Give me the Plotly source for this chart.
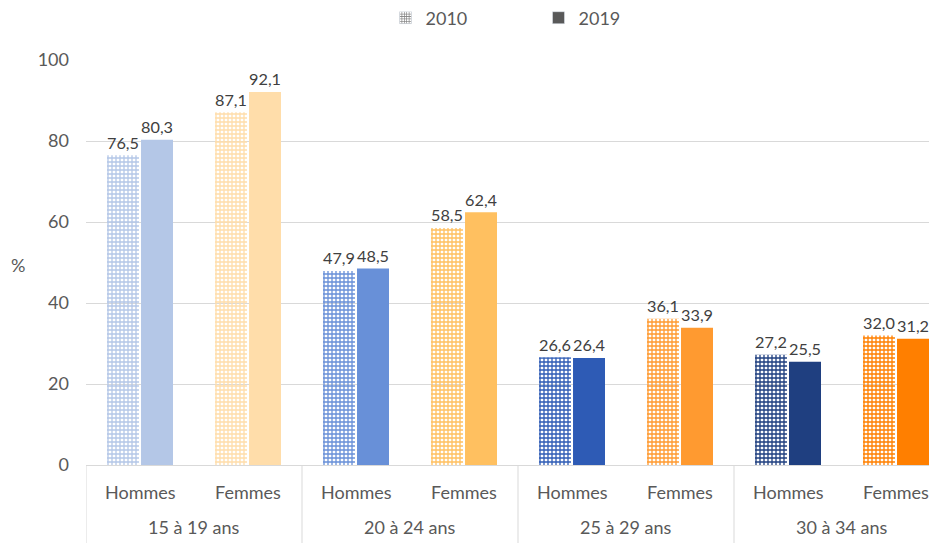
import plotly.graph_objects as go

ages = ["15 à 19 ans", "20 à 24 ans", "25 à 29 ans", "30 à 34 ans"]
sexes = ["Hommes", "Femmes"]
v2010 = [76.5, 87.1, 47.9, 58.5, 26.6, 36.1, 27.2, 32.0]
v2019 = [80.3, 92.1, 48.5, 62.4, 26.4, 33.9, 25.5, 31.2]
bar_colors = ["#B4C7E7", "#FFDDAA", "#6890D8", "#FFC060",
              "#2E5BB5", "#FF9A30", "#1F3F80", "#FF7F00"]

x_outer = [a for a in ages for _ in sexes]
x_inner = [s for _ in ages for s in sexes]
fmt = lambda v: f"{v:.1f}".replace(".", ",")

FONT = "Lato, Open Sans, sans-serif"
GREY = "#595959"
txt_font = dict(family=FONT, size=18, color="#404040")

# figure is drawn with an 8px page offset; plot area in figure px
L, T, W, H = 78, 52, 859, 405
XR = [-0.5, -0.5 + W / 108.0]

fig = go.Figure()
fig.add_trace(go.Bar(
    x=[x_outer, x_inner], y=v2010, name="2010", showlegend=False,
    marker=dict(color=bar_colors, line=dict(width=0),
                pattern=dict(shape="+", fgcolor=bar_colors, bgcolor="white",
                             fillmode="replace", size=4, solidity=0.55)),
    text=[fmt(v) for v in v2010], textposition="outside", textfont=txt_font,
    cliponaxis=False,
))
fig.add_trace(go.Bar(
    x=[x_outer, x_inner], y=v2019, name="2019", showlegend=False,
    marker=dict(color=bar_colors, line=dict(width=0)),
    text=[fmt(v) for v in v2019], textposition="outside", textfont=txt_font,
    cliponaxis=False,
))
# legend proxies (empty)
fig.add_trace(go.Bar(x=[0], y=[None], name="2010", xaxis="x2", yaxis="y2",
                     marker=dict(color="#7F7F7F",
                                 pattern=dict(shape="+", fgcolor="#7F7F7F", bgcolor="white",
                                              fillmode="replace", size=3, solidity=0.5))))
fig.add_trace(go.Bar(x=[0], y=[None], name="2019", xaxis="x2", yaxis="y2",
                     marker=dict(color=GREY)))

# category labels and dividers on a helper index axis
annots = []
for i, s in enumerate(x_inner):
    annots.append(dict(text=s, x=i, y=(T + H - 484) / H, xref="x2", yref="paper",
                       showarrow=False, xanchor="center", yanchor="middle",
                       font=dict(family=FONT, size=18, color=GREY)))
for k, a in enumerate(ages):
    annots.append(dict(text=a, x=2 * k + 0.5, y=(T + H - 519) / H, xref="x2", yref="paper",
                       showarrow=False, xanchor="center", yanchor="middle",
                       font=dict(family=FONT, size=18, color=GREY)))
annots.append(dict(text="%", x=(10 - L) / W, y=(T + H - 257) / H,
                   xref="paper", yref="paper", xanchor="center", yanchor="middle",
                   showarrow=False, font=dict(family=FONT, size=18, color=GREY)))
shapes = [dict(type="line", xref="x2", yref="paper", x0=xb, x1=xb, y0=0, y1=-0.25,
               line=dict(color="#D9D9D9", width=1))
          for xb in [-0.5 + 2 * k for k in range(len(ages) + 1)]]

fig.update_layout(
    width=937, height=543,
    margin=dict(l=L, r=937 - L - W, t=T, b=543 - T - H, autoexpand=False),
    paper_bgcolor="white", plot_bgcolor="white",
    barmode="group", bargap=0.37, bargroupgap=0.06,
    font=dict(family=FONT, size=18, color=GREY),
    legend=dict(orientation="h", x=0.5 + 23 / W, xanchor="center", y=1 - 10 / 543,
                yanchor="middle", yref="container", font=dict(size=18, color=GREY),
                itemwidth=30, entrywidth=108, traceorder="normal"),
    xaxis=dict(type="multicategory", showgrid=False, showline=True,
               linecolor="#D9D9D9", showticklabels=False, showdividers=False,
               ticks="", range=XR),
    yaxis=dict(range=[0, 100], dtick=20, showgrid=True, gridcolor="#D9D9D9",
               zeroline=False, showline=False, ticklabelstandoff=16,
               tickfont=dict(size=18, color=GREY)),
    xaxis2=dict(visible=False, overlaying="x", range=XR),
    yaxis2=dict(visible=False, overlaying="y", range=[0, 1]),
    annotations=annots,
    shapes=shapes,
)
fig.write_html("out.html")
